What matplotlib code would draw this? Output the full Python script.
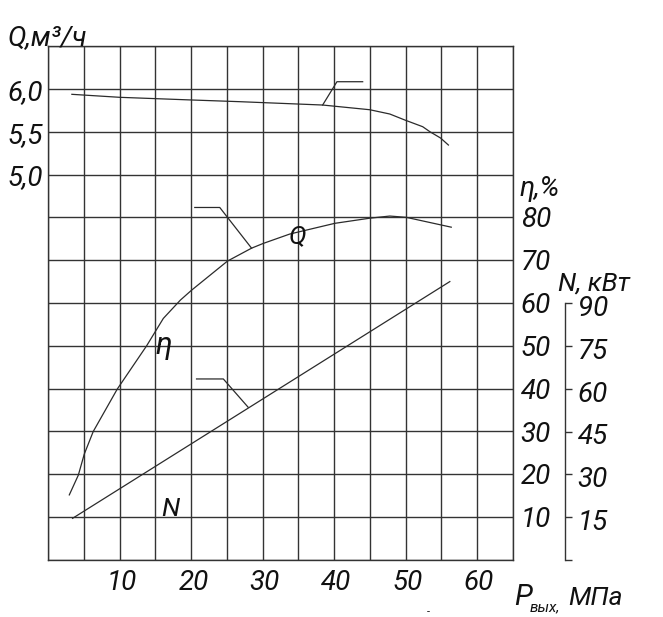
import matplotlib
matplotlib.use("Agg")
import matplotlib.pyplot as plt
import matplotlib.transforms as mtransforms
import numpy as np

W, H = 663, 617
FONT = ["Roboto", "DejaVu Sans"]
FS = 20

# data (x = outlet pressure, MPa)
q_p = [3.3, 10.0, 20.0, 26.8, 38.4, 45.0, 47.8, 49.9, 52.4, 53.4, 54.9, 56.0]
q_val = [5.936, 5.901, 5.870, 5.850, 5.811, 5.756, 5.706, 5.636, 5.558, 5.500, 5.426, 5.344]

eta_p = [2.94, 4.2, 5.03, 6.29, 9.65, 13.76, 16.1, 18.5, 20.06, 25.09,
         28.45, 30.07, 33.8, 40.1, 45.0, 47.8, 50.1, 56.4]
eta_val = [15.2, 19.8, 24.7, 30.0, 39.9, 50.0, 56.4, 60.7, 63.0, 69.8,
           72.8, 73.9, 76.1, 78.6, 79.8, 80.3, 80.0, 77.7]

n_p = [3.4, 56.2]
n_val = [14.6, 97.5]

x_ticks = [10, 20, 30, 40, 50, 60]
q_ticks = [5.0, 5.5, 6.0]
eta_ticks = [10, 20, 30, 40, 50, 60, 70, 80]
n_ticks = [0, 15, 30, 45, 60, 75, 90]

LINE = "#2b2b2b"
GRID = "#333333"
TXT = "#111111"


def style(lab, size=FS):
    lab.set_family(FONT)
    lab.set_style("italic")
    lab.set_weight("normal")
    lab.set_fontsize(size)
    lab.set_color(TXT)


def txt(x, y, s, size=FS, **kw):
    # place text by pixel position of the reference picture
    kw.setdefault("ha", "left")
    kw.setdefault("va", "baseline")
    t = fig.text(x / W, 1 - y / H, s, **kw)
    style(t, size)
    return t


def shifted(trans, dy_px):
    return trans + mtransforms.ScaledTranslation(0, -dy_px / 100, fig.dpi_scale_trans)


fig = plt.figure(figsize=(W / 100, H / 100), dpi=100)
AX_W = 464.4
ax = fig.add_axes([48.3 / W, 1 - 560 / H, AX_W / W, 514 / H])

# Q axis (left)
ax.set_xlim(0, 65)
ax.set_ylim(0.5, 6.5)
ax.set_xticks(np.arange(0, 65.1, 5))
ax.set_yticks(np.arange(0.5, 6.51, 0.5))
ax.grid(True, color=GRID, linewidth=1.0)
ax.tick_params(length=0, labelbottom=False, labelleft=False)
for s in ax.spines.values():
    s.set_color(GRID)
    s.set_linewidth(1.0)
ax.plot(q_p, q_val, color=LINE, lw=0.9)
ax.plot([38.4, 40.4, 44.0], [5.811, 6.083, 6.083], color=LINE, lw=0.9)

for v in x_ticks:
    t = ax.text(v + 0.3, -0.02, str(v), transform=ax.get_xaxis_transform(),
                ha="center", va="top")
    style(t)
for v in q_ticks:
    t = ax.text(-5 / AX_W, v, f"{v:.1f}".replace(".", ","),
                transform=shifted(ax.get_yaxis_transform(), 4), ha="right", va="center")
    style(t)

# efficiency axis
ax_eta = ax.twinx()
ax_eta.set_ylim(0, 120)
ax_eta.set_yticks([])
for s in ax_eta.spines.values():
    s.set_visible(False)
for v in eta_ticks:
    t = ax_eta.text(1 + 8 / AX_W, v, str(v), transform=shifted(ax_eta.get_yaxis_transform(), 3),
                    ha="left", va="center")
    style(t)
ax_eta.plot(eta_p, eta_val, color=LINE, lw=0.9)
ax_eta.plot([20.5, 24.0, 28.45], [82.3, 82.3, 72.8], color=LINE, lw=0.9)

# power axis (offset spine)
ax_n = ax.twinx()
ax_n.set_ylim(0, 180)
for k, s in ax_n.spines.items():
    s.set_visible(k == "right")
ax_n.spines["right"].set_position(("outward", 52.3 * 72 / 100))
ax_n.spines["right"].set_bounds(0, 90)
ax_n.spines["right"].set_linewidth(1.0)
ax_n.spines["right"].set_color(GRID)
ax_n.set_yticks(n_ticks)
ax_n.tick_params(direction="out", length=5, width=1.0, color=GRID, labelright=False)
for v in n_ticks[1:]:
    t = ax_n.text(1 + 65 / AX_W, v, str(v), transform=shifted(ax_n.get_yaxis_transform(), 6),
                  ha="left", va="center")
    style(t)
ax_n.plot(n_p, n_val, color=LINE, lw=0.9)
ax_n.plot([20.75, 24.5, 27.97], [63.4, 63.4, 53.5], color=LINE, lw=0.9)

# axis titles and curve names
txt(8, 45, "Q,м³/ч")
txt(519, 196, "η,%")
txt(558, 291, "N, кВт", size=19)
txt(514, 605, "P", size=21)
txt(530, 611, "вых,", size=11)
txt(568, 605, "МПа", size=19)
txt(289, 243, "Q", size=19)
txt(155, 354, "η", size=22)
txt(161, 516, "N", size=19)
txt(427, 612, "-", size=8, va="center")

fig.savefig("out.png", dpi=100)
